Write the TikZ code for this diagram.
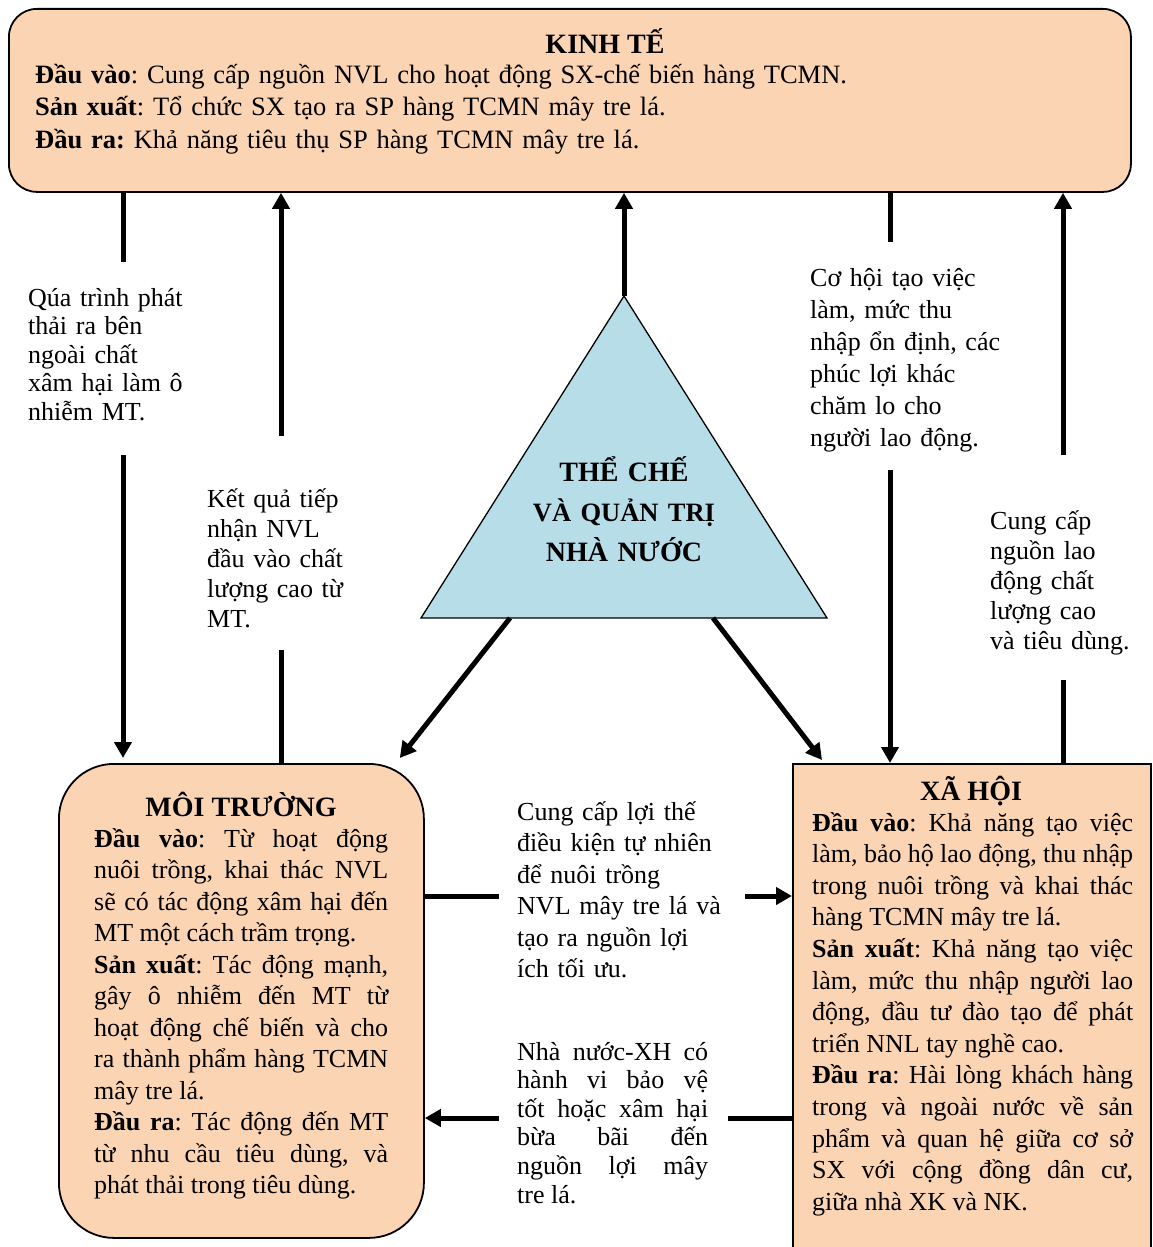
\documentclass[tikz,border=0pt]{standalone}
\usepackage{fontspec}
\setmainfont{Liberation Serif}
\usetikzlibrary{arrows.meta,calc}
\definecolor{peach}{HTML}{FBD4B4}
\definecolor{paleblue}{HTML}{B6DDE8}
\begin{document}
\frenchspacing
\hyphenpenalty=10000 \exhyphenpenalty=10000 \tolerance=10000 \hbadness=10000
\begin{tikzpicture}[x=1pt,y=-1pt,
  box/.style={draw, line width=1.8pt, fill=peach, inner sep=0pt},
  conn/.style={line width=5pt},
  arr/.style={conn, -{Triangle[width=17pt,length=16pt]}},
  txt/.style={inner sep=0pt, anchor=base west, align=left},
  jtxt/.style={inner sep=0pt, anchor=base west, align=justify},
  ttl/.style={inner sep=0pt, anchor=base, font=\bfseries\fontsize{28}{32}\selectfont}]
\useasboundingbox (0,0) rectangle (1152,1247);

% boxes
\node[box, rounded corners=28pt, minimum width=1122pt, minimum height=183pt, anchor=north west] (kt) at (8,8) {};
\node[box, rounded corners=55pt, minimum width=365pt, minimum height=474pt, anchor=north west] (mt) at (58,763) {};
\node[box, minimum width=358pt, minimum height=540pt, anchor=north west] (xh) at (792,763) {};

% triangle
\coordinate (apex) at (624,296);
\coordinate (tl) at (421,618);
\coordinate (tr) at (827,618);
\draw[line width=1.3pt, fill=paleblue] (apex) -- (tl) -- (tr) -- cycle;
\node[inner sep=0pt, anchor=base, align=center, text width=260pt, font=\bfseries\fontsize{28}{40}\selectfont] (tri) at (624,481)
  {THỂ CHẾ\\ {\fontsize{26.5}{40}\selectfont VÀ QUẢN TRỊ}\\ NHÀ NƯỚC};

% box texts
\node[ttl] (ktt) at (605,53) {KINH TẾ};
\node[txt, text width=1080pt, font=\fontsize{26.5}{32}\selectfont] (ktx) at (35,84)
  {\textbf{Đầu vào}: Cung cấp nguồn NVL cho hoạt động SX-chế biến hàng TCMN.\\
   \textbf{Sản xuất}: Tổ chức SX tạo ra SP hàng TCMN mây tre lá.\\
   \textbf{Đầu ra:} Khả năng tiêu thụ SP hàng TCMN mây tre lá.};

\node[ttl] (mtt) at (241,816) {MÔI TRƯỜNG};
\node[jtxt, text width=294pt, font=\fontsize{26}{31.5}\selectfont] (mtx) at (94,847)
  {\parindent=0pt
   \textbf{Đầu vào}: Từ hoạt động \linebreak nuôi trồng, khai thác NVL \linebreak sẽ có tác động xâm hại đến \linebreak MT một cách trầm trọng.\par
   \textbf{Sản xuất}: Tác động mạnh, \linebreak gây ô nhiễm đến MT từ \linebreak hoạt động chế biến và cho \linebreak ra thành phẩm hàng TCMN \linebreak mây tre lá.\par
   \textbf{Đầu ra}: Tác động đến MT \linebreak từ nhu cầu tiêu dùng, và \linebreak phát thải trong tiêu dùng.};

\node[ttl] (xht) at (971,800) {XÃ HỘI};
\node[jtxt, text width=321pt, font=\fontsize{26}{31.6}\selectfont] (xhx) at (812,831)
  {\parindent=0pt
   \textbf{Đầu vào}: Khả năng tạo việc \linebreak làm, bảo hộ lao động, thu nhập \linebreak trong nuôi trồng và khai thác \linebreak hàng TCMN mây tre lá.\par
   \textbf{Sản xuất}: Khả năng tạo việc \linebreak làm, mức thu nhập người lao \linebreak động, đầu tư đào tạo để phát \linebreak triển NNL tay nghề cao.\par
   \textbf{Đầu ra}: Hài lòng khách hàng \linebreak trong và ngoài nước về sản \linebreak phẩm và quan hệ giữa cơ sở \linebreak SX với cộng đồng dân cư, \linebreak giữa nhà XK và NK.};

% connector labels
\node[txt, text width=220pt, font=\fontsize{26}{28.5}\selectfont] (l1) at (28,306)
  {Qúa trình phát\\ thải ra bên\\ ngoài chất\\ xâm hại làm ô\\ nhiễm MT.};
\node[txt, text width=220pt, font=\fontsize{26}{30}\selectfont] (l2) at (207,507)
  {Kết quả tiếp\\ nhận NVL\\ đầu vào chất\\ lượng cao từ\\ MT.};
\node[txt, text width=240pt, font=\fontsize{26}{32}\selectfont] (l3) at (810,286)
  {Cơ hội tạo việc\\ làm, mức thu\\ nhập ổn định, các\\ phúc lợi khác\\ chăm lo cho\\ người lao động.};
\node[txt, text width=160pt, font=\fontsize{26}{30}\selectfont] (l4) at (990,529)
  {Cung cấp\\ nguồn lao\\ động chất\\ lượng cao\\ và tiêu dùng.};
\node[txt, text width=240pt, font=\fontsize{26}{31.5}\selectfont] (l5) at (517,820)
  {Cung cấp lợi thế\\ điều kiện tự nhiên\\ để nuôi trồng\\ NVL mây tre lá và\\ tạo ra nguồn lợi\\ ích tối ưu.};
\node[jtxt, text width=191pt, font=\fontsize{26}{28.6}\selectfont] (l6) at (517,1060)
  {\parindent=0pt Nhà nước-XH có \linebreak hành vi bảo vệ \linebreak tốt hoặc xâm hại \linebreak bừa bãi đến \linebreak nguồn lợi mây \linebreak tre lá.};

% gap ends of the interrupted connectors
\coordinate (g1a) at (123,262);  \coordinate (g1b) at (123,455);
\coordinate (g2a) at (281,650);  \coordinate (g2b) at (281,436);
\coordinate (g4a) at (890,242);  \coordinate (g4b) at (890,470);
\coordinate (g5a) at (1063,680); \coordinate (g5b) at (1063,455);
\coordinate (h1a) at (499,896);  \coordinate (h1b) at (745,896);
\coordinate (h2a) at (728,1118); \coordinate (h2b) at (499,1118);
\coordinate (bl) at (510,618);   \coordinate (br) at (713,618);

% connectors
\draw[conn] (kt.south -| g1a) -- (g1a);
\draw[arr, shorten >=5pt] (g1b) -- (mt.north -| g1b);
\draw[conn] (mt.north -| g2a) -- (g2a);
\draw[arr] (g2b) -- (kt.south -| g2b);
\draw[arr] (apex) -- (kt.south -| apex);
\draw[conn] (kt.south -| g4a) -- (g4a);
\draw[arr] (g4b) -- (xh.north -| g4b);
\draw[conn] (xh.north -| g5a) -- (g5a);
\draw[arr] (g5b) -- (kt.south -| g5b);
\draw[conn] (mt.east |- h1a) -- (h1a);
\draw[arr] (h1b) -- (xh.west |- h1b);
\draw[conn] (xh.west |- h2a) -- (h2a);
\draw[arr] (h2b) -- (mt.east |- h2b);
\draw[arr] (bl) -- ($(mt.north east)+(-25,-5)$);
\draw[arr] (br) -- ($(xh.north west)+(30,-3)$);
\end{tikzpicture}
\end{document}
